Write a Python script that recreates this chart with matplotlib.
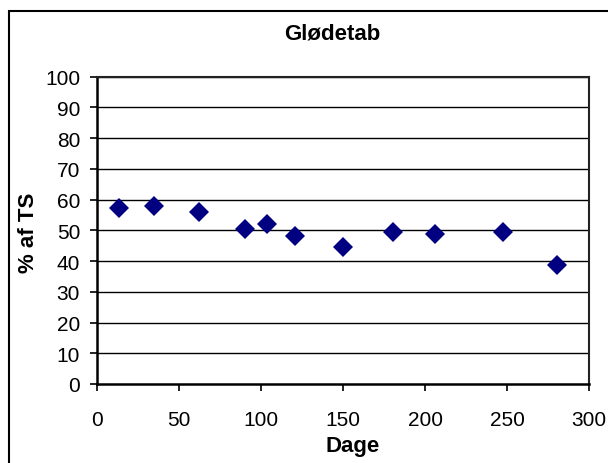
import matplotlib
matplotlib.use("Agg")
import matplotlib.pyplot as plt
from matplotlib.patches import Rectangle

plt.rcParams['font.family'] = ['Liberation Sans', 'DejaVu Sans']

# Glødetab (loss on ignition) vs. days
dage = [13.6, 34.6, 62.3, 90.3, 103.5, 120.6, 149.8, 180.6, 206.0, 247.3, 280.3]
pct_ts = [57.2, 57.8, 55.9, 50.4, 52.0, 48.1, 44.7, 49.4, 48.7, 49.4, 38.8]

x_ticks = [0, 50, 100, 150, 200, 250, 300]
y_ticks = list(range(0, 101, 10))

W, H = 608, 464
fig = plt.figure(figsize=(W / 100, H / 100), dpi=100)

# outer chart border (cut off at right and bottom in the original)
fig.patches.append(Rectangle((8.5 / W, -0.1), 1.2, (H - 12) / H + 0.1,
                             transform=fig.transFigure, fill=False,
                             edgecolor='black', linewidth=1.5))

ax = fig.add_axes([96.7 / W, (H - 385) / H, (589.3 - 96.7) / W, (385 - 77.7) / H])
for y in y_ticks[1:]:
    ax.axhline(y, color='black', linewidth=1.0, zorder=1)

ax.plot(dage, pct_ts, linestyle='none', marker='D', markersize=10,
        color='#000080', markeredgewidth=0, zorder=3)

ax.set_xlim(0, 300)
ax.set_ylim(0, 100)
ax.set_xticks(x_ticks)
ax.set_yticks(y_ticks)
ax.tick_params(direction='out', length=5, width=1.2, labelsize=15, color='black')
ax.tick_params(axis='x', pad=14)
ax.tick_params(axis='y', pad=7)

for side in ['left', 'bottom']:
    ax.spines[side].set_linewidth(1.8)
for side in ['top', 'right']:
    ax.spines[side].set_linewidth(1.5)
    ax.spines[side].set_color('#222222')

# axis titles placed by pixel position
fig.text(353 / W, 1 - 447 / H, 'Dage', ha='center', va='center',
         fontsize=16, fontweight='bold')
fig.text(29 / W, 1 - 233 / H, '% af TS', ha='center', va='center',
         rotation=90, fontsize=16, fontweight='bold')
fig.text(332 / W, 1 - 34 / H, 'Glødetab', ha='center', va='center',
         fontsize=16, fontweight='bold')

fig.savefig('out.png', dpi=100)
